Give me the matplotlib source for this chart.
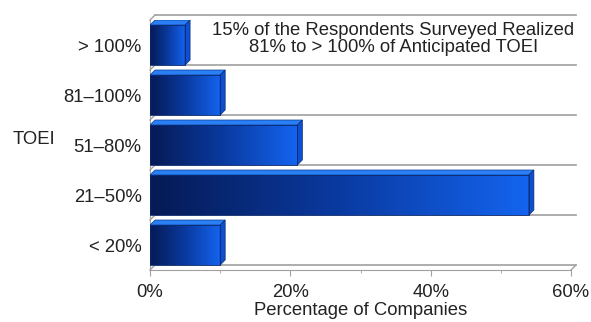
import numpy as np
import matplotlib
matplotlib.use("Agg")
import matplotlib.pyplot as plt
from matplotlib.patches import Polygon, Rectangle
from matplotlib.colors import LinearSegmentedColormap

plt.rcParams['font.family'] = ['Liberation Sans', 'DejaVu Sans']

# dati
categorie = ['> 100%', '81\u2013100%', '51\u201380%', '21\u201350%', '< 20%']
valori = [5, 10, 21, 54, 10]
xticks = [0, 20, 40, 60]
xticklabels = ['0%', '20%', '40%', '60%']
nota = '15% of the Respondents Surveyed Realized\n81% to > 100% of Anticipated TOEI'

fig = plt.figure(figsize=(5.91, 3.22), dpi=100)
ax = fig.add_axes([150/591, 1-270/322, 421/591, 250/322])

ax.set_xlim(0, 60)
ax.set_ylim(len(categorie)-0.5, -0.5)

# profondita' 3D in unita' dati (circa 5 px)
dx = 5 * 60/421
dy = 5 * 1/50

grigio = '#a0a0a0'
testo = '#222222'
fs = 13.3
# pareti di fondo: linee di griglia spostate
for k in range(len(categorie)+1):
    yb = k - 0.5 - dy
    ax.plot([dx, 60+dx], [yb, yb], color=grigio, lw=1.2, clip_on=False, zorder=1)
    ax.plot([0, dx], [k-0.5, yb], color=grigio, lw=1.0, clip_on=False, zorder=1)
ax.plot([60, 60+dx], [len(categorie)-0.5, len(categorie)-0.5-dy], color=grigio, lw=1.0, clip_on=False)

cmap = LinearSegmentedColormap.from_list('blu', ['#061a55', '#0a3aa0', '#1464f0'])
grad = np.linspace(0, 1, 256).reshape(1, -1)
h = 0.8
for i, v in enumerate(valori):
    y0 = i - h/2
    rect = Rectangle((0, y0), v, h, facecolor='none', edgecolor='#0a2a70', lw=0.6, zorder=4)
    ax.add_patch(rect)
    im = ax.imshow(grad, cmap=cmap, aspect='auto', extent=(0, v, i+h/2, y0), zorder=3)
    im.set_clip_path(rect)
    # faccia superiore
    top = Polygon([(0, y0), (v, y0), (v+dx, y0-dy), (dx, y0-dy)],
                  closed=True, facecolor='#2a7ff5', edgecolor='#0a3a90', lw=0.5, zorder=3)
    ax.add_patch(top)
    # faccia laterale
    side = Polygon([(v, y0), (v+dx, y0-dy), (v+dx, i+h/2-dy), (v, i+h/2)],
                   closed=True, facecolor='#0c4fd0', edgecolor='#0a2a70', lw=0.5, zorder=3)
    ax.add_patch(side)

ax.set_yticks(range(len(categorie)))
ax.set_yticklabels(categorie, fontsize=fs, color=testo)
ax.set_xticks(xticks)
ax.set_xticklabels(xticklabels, fontsize=fs, color=testo)
ax.tick_params(axis='y', length=0, pad=6)
ax.tick_params(axis='x', length=4, color=grigio, pad=6)
ax.set_xticks([10, 30, 50], minor=True)
ax.tick_params(axis='x', which='minor', length=2, color=grigio)
for s in ['top', 'right']:
    ax.spines[s].set_visible(False)
ax.spines['left'].set_color(grigio)
ax.spines['bottom'].set_color(grigio)
ax.set_xlabel('Percentage of Companies', fontsize=fs, color=testo, labelpad=1)
fig.text(13/591, 1-140/322, 'TOEI', fontsize=fs, color=testo, va='center', ha='left')

# riquadro della nota
ax.add_patch(Rectangle((6.5, -0.5-dy), 53.5+dx, 0.95, facecolor='white', edgecolor='none', zorder=5))
ax.text(34.7, -0.07-dy*0.5, nota, ha='center', va='center', fontsize=fs,
        color=testo, linespacing=1.0, zorder=6)

fig.savefig('out.png', dpi=100)
